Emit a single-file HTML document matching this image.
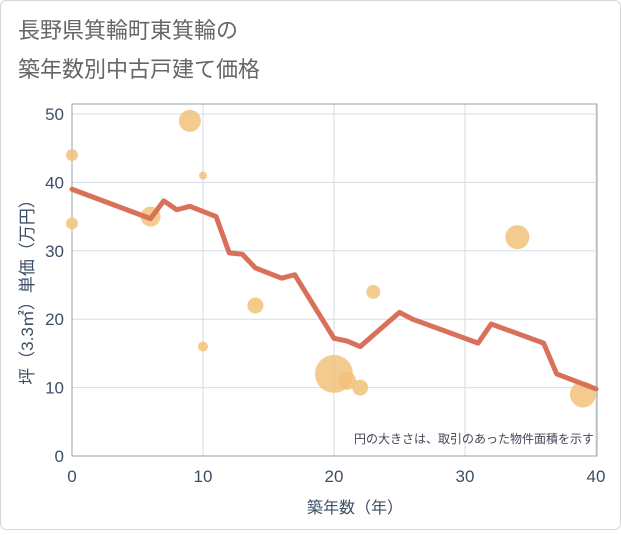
<!DOCTYPE html>
<html><head><meta charset="utf-8"><style>
body{margin:0;background:#fff;}
svg text{font-family:"Liberation Sans","Noto Sans CJK JP",sans-serif;}
</style></head><body>
<svg width="621" height="530" xmlns="http://www.w3.org/2000/svg">
<rect x="0.5" y="0.5" width="620" height="529" rx="6" fill="#fff" stroke="#d6d6d6"/>
<text x="18" y="38" font-size="22" fill="#666">長野県箕輪町東箕輪の</text>
<text x="18" y="77" font-size="22" fill="#666">築年数別中古戸建て価格</text>
<g id="grid"></g>
<rect x="72" y="104" width="525" height="352" fill="none" stroke="#9aa3ad"/>
<g id="bubbles"></g>
<path id="line" fill="none" stroke="#d9705a" stroke-width="5" stroke-linejoin="round" stroke-linecap="round"/>
<g id="ticks"></g>
<text x="594" y="443" font-size="12" fill="#445" text-anchor="end">円の大きさは、取引のあった物件面積を示す</text>
<text x="355" y="513" font-size="16" fill="#3d4f66" text-anchor="middle">築年数（年）</text>
<text transform="translate(33,288) rotate(-90)" font-size="17" fill="#3d4f66" text-anchor="middle">坪（3.3㎡）単価（万円）</text>
</svg>
<script>
const xTicks=[0,10,20,30,40];
const yTicks=[0,10,20,30,40,50];
const lineX=[0,6,7,8,9,11,12,13,14,16,17,20,21,22,25,26,31,32,36,37,40];
const lineY=[39,34.7,37.3,36,36.5,35,29.7,29.5,27.5,26,26.5,17.2,16.8,16,21,20,16.5,19.3,16.5,12,9.8];
const bubX=[0,0,6,9,10,10,14,20,21,22,23,34,39];
const bubY=[44,34,35,49,41,16,22,12,11,10,24,32,9];
const bubR=[6,6,10,11,4,5,8,19,9,8,7,12,13];
const sx=v=>72+v*(524/40), sy=v=>456-v*6.84;
const NS="http://www.w3.org/2000/svg";
const grid=document.getElementById('grid'), ticks=document.getElementById('ticks');
function mk(tag,attrs,parent){const e=document.createElementNS(NS,tag);for(const k in attrs)e.setAttribute(k,attrs[k]);parent.appendChild(e);return e;}
xTicks.forEach(t=>{
 const l=mk('line',{x1:sx(t),x2:sx(t),y1:104,y2:456,stroke:'#d5dde5'},grid);
 
 
 const tx=mk('text',{x:sx(t),y:482,'font-size':17,fill:'#3d4f66','text-anchor':'middle'},ticks);
 tx.textContent=t;
 
 
});
yTicks.forEach(t=>{
 const l=mk('line',{x1:72,x2:597,y1:sy(t),y2:sy(t),stroke:'#d5dde5'},grid);
 
 
 const tx=mk('text',{x:64,y:sy(t)+6,'font-size':17,fill:'#3d4f66','text-anchor':'end'},ticks);
 tx.textContent=t;
 
 
});
const bg=document.getElementById('bubbles');
bubX.forEach((x,i)=>{
 const c=mk('circle',{cx:sx(x),cy:sy(bubY[i]),r:bubR[i],fill:'#f2c27a','fill-opacity':0.85},bg);
 
 
});
document.getElementById('line').setAttribute('d',lineX.map((x,i)=>(i?'L':'M')+sx(x)+','+sy(lineY[i])).join(''));
</script>
</body></html>
